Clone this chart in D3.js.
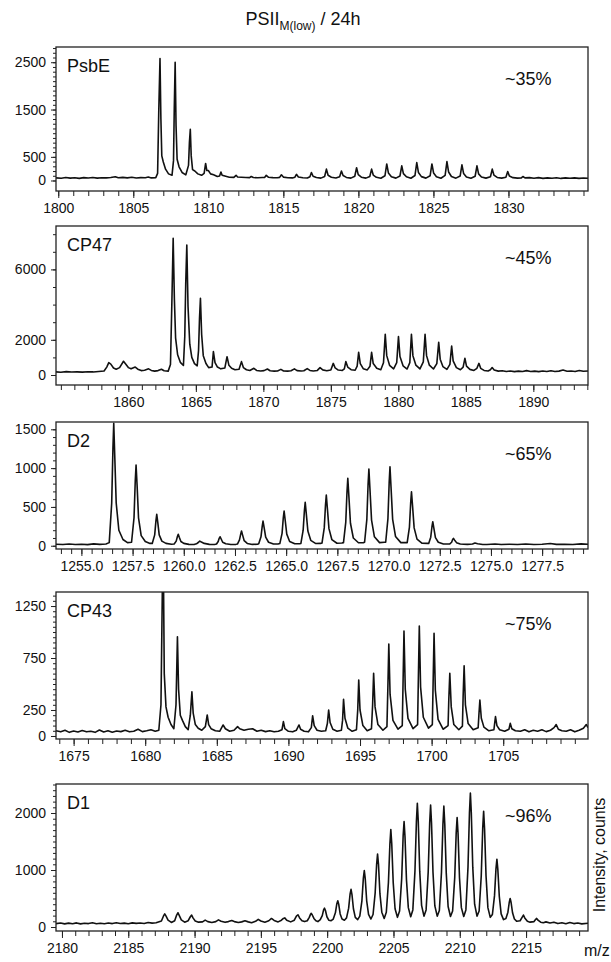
<!DOCTYPE html>
<html>
<head>
<meta charset="utf-8">
<title>PSII M(low) / 24h</title>
<script src="https://cdn.jsdelivr.net/npm/d3@7"></script>
<style>
  body { margin: 0; background: #fff; }
  svg text { font-family: "Liberation Sans", Arial, sans-serif; fill: #111; }
  .trace { fill: none; stroke: #111; stroke-width: 1.6px; stroke-linejoin: round; }
  .frame { fill: none; stroke: #222; stroke-width: 1.3px; }
  .tick line { stroke: #222; }
</style>
</head>
<body>
<svg id="chart" width="611" height="962"></svg>
<script>
// panel names and labels
const panelNames = ['PsbE', 'CP47', 'D2', 'CP43', 'D1'];
const percentLabels = ['~35%', '~45%', '~65%', '~75%', '~96%'];

// labelled tick values
const xTicks = [
  [1800, 1805, 1810, 1815, 1820, 1825, 1830],
  [1860, 1865, 1870, 1875, 1880, 1885, 1890],
  [1255.0, 1257.5, 1260.0, 1262.5, 1265.0, 1267.5, 1270.0, 1272.5, 1275.0, 1277.5],
  [1675, 1680, 1685, 1690, 1695, 1700, 1705],
  [2180, 2185, 2190, 2195, 2200, 2205, 2210, 2215]
];
const yTicks = [
  [0, 500, 1500, 2500],
  [0, 2000, 6000],
  [0, 500, 1000, 1500],
  [0, 250, 750, 1250],
  [0, 1000, 2000]
];

// spectra: [m/z, counts]
const psbE = [
  [1799.85,55],[1800.2,48],[1800.5,62],[1800.8,50],[1801.1,58],[1801.4,45],[1801.7,60],[1802.0,52],[1802.3,64],[1802.6,50],
  [1802.9,58],[1803.2,55],[1803.5,62],[1803.8,80],[1804.0,58],[1804.3,66],[1804.6,55],[1804.9,68],[1805.2,52],[1805.5,60],
  [1805.8,58],[1806.0,75],[1806.2,55],[1806.5,60],[1806.62,150],
  [1806.7,1500],[1806.78,2580],[1806.84,1300],[1806.9,520],[1807.0,390],[1807.15,240],[1807.35,140],[1807.58,110],[1807.68,420],
  [1807.73,1500],[1807.79,2500],[1807.85,1150],[1807.92,450],[1808.05,290],[1808.25,170],[1808.5,120],[1808.68,320],
  [1808.74,800],[1808.8,1080],[1808.86,520],[1808.95,230],[1809.1,200],[1809.3,140],[1809.55,110],[1809.72,150],
  [1809.82,360],[1809.9,210],[1810.0,210],[1810.15,140],[1810.35,120],[1810.6,85],[1810.75,95],
  [1810.84,180],[1810.92,110],[1811.1,95],[1811.4,70],[1811.7,65],
  [1811.85,110],[1811.95,75],[1812.2,70],[1812.5,62],[1812.75,60],
  [1812.86,85],[1813.0,62],[1813.3,58],[1813.6,64],[1813.75,62],
  [1813.86,110],[1814.0,70],[1814.3,60],[1814.6,58],[1814.75,66],
  [1814.87,120],[1815.0,72],[1815.3,58],[1815.6,55],[1815.77,70],
  [1815.87,130],[1816.0,75],[1816.3,58],[1816.6,52],[1816.77,80],
  [1816.87,170],[1816.98,90],[1817.2,62],[1817.5,50],[1817.75,85],
  [1817.87,240],[1817.98,110],[1818.2,70],[1818.5,52],[1818.75,80],
  [1818.87,200],[1818.98,105],[1819.2,65],[1819.5,50],[1819.76,90],
  [1819.88,270],[1819.99,125],[1820.2,70],[1820.5,50],[1820.76,85],
  [1820.88,240],[1820.99,115],[1821.2,68],[1821.5,48],[1821.77,100],
  [1821.89,350],[1822.0,160],[1822.2,80],[1822.5,50],[1822.77,95],
  [1822.89,310],[1823.0,145],[1823.2,78],[1823.5,48],[1823.77,105],
  [1823.89,380],[1824.0,170],[1824.2,82],[1824.5,50],[1824.78,100],
  [1824.9,350],[1825.01,160],[1825.2,80],[1825.5,48],[1825.78,110],
  [1825.9,400],[1826.01,180],[1826.2,85],[1826.5,50],[1826.78,95],
  [1826.9,330],[1827.01,150],[1827.2,75],[1827.5,48],[1827.78,90],
  [1827.9,310],[1828.01,140],[1828.2,72],[1828.5,50],[1828.8,80],
  [1828.92,240],[1829.03,115],[1829.25,65],[1829.55,50],[1829.83,70],
  [1829.95,190],[1830.06,95],[1830.3,60],[1830.6,50],[1830.86,55],
  [1830.96,85],[1831.1,55],[1831.4,60],[1831.7,48],[1832.0,60],[1832.3,45],[1832.6,56],[1832.9,48],[1833.2,58],
  [1833.5,44],[1833.8,55],[1834.1,46],[1834.4,56],[1834.7,44],[1835.0,52],[1835.3,48]
];

const cp47 = [
  [1854.64,180],[1855.0,160],[1855.4,190],[1855.8,170],[1856.2,180],[1856.6,165],[1857.0,185],[1857.4,175],[1857.8,200],
  [1858.2,230],[1858.4,450],[1858.55,700],[1858.7,620],[1858.9,400],[1859.1,330],[1859.35,420],[1859.64,780],[1859.8,620],
  [1860.0,420],[1860.2,350],[1860.51,450],[1860.7,330],[1860.95,250],[1861.2,270],[1861.5,350],[1861.7,260],[1861.95,220],
  [1862.2,250],[1862.45,330],[1862.65,240],[1862.95,220],[1863.12,600],
  [1863.22,4000],[1863.32,7770],[1863.41,4300],[1863.5,2100],[1863.65,1150],[1863.85,720],[1864.08,540],[1864.18,2200],
  [1864.25,5200],[1864.33,7390],[1864.42,3900],[1864.55,1750],[1864.7,1000],[1864.9,650],[1865.1,520],[1865.2,1400],
  [1865.27,3200],[1865.34,4360],[1865.43,2300],[1865.55,1100],[1865.75,650],[1865.95,420],[1866.2,450],
  [1866.3,1330],[1866.42,700],[1866.6,450],[1866.85,350],[1867.15,400],
  [1867.31,1040],[1867.45,550],[1867.65,380],[1867.9,300],[1868.2,330],
  [1868.38,760],[1868.52,420],[1868.75,300],[1869.0,260],[1869.3,380],[1869.5,260],[1869.8,230],[1870.05,250],[1870.3,340],
  [1870.5,240],[1870.8,220],[1871.05,230],[1871.3,320],[1871.5,230],[1871.8,220],[1872.05,240],[1872.3,350],[1872.5,250],
  [1872.8,230],[1873.0,240],[1873.25,360],[1873.45,260],[1873.7,230],[1874.0,260],[1874.2,420],[1874.4,290],[1874.7,240],[1875.0,280],
  [1875.18,660],[1875.32,400],[1875.55,280],[1875.85,260],[1876.0,350],
  [1876.11,760],[1876.25,450],[1876.5,300],[1876.8,270],[1876.95,500],
  [1877.06,1290],[1877.18,650],[1877.4,360],[1877.7,290],[1877.9,500],
  [1878.02,1290],[1878.14,650],[1878.4,380],[1878.7,300],[1878.9,700],
  [1879.03,2310],[1879.14,1100],[1879.35,550],[1879.65,350],[1879.88,700],
  [1880.01,2180],[1880.12,1050],[1880.35,520],[1880.65,340],[1880.85,700],
  [1880.97,2310],[1881.08,1100],[1881.3,560],[1881.6,350],[1881.85,750],
  [1881.98,2310],[1882.09,1100],[1882.3,560],[1882.6,340],[1882.85,650],
  [1882.99,1860],[1883.1,900],[1883.3,480],[1883.6,320],[1883.82,600],
  [1883.95,1650],[1884.06,800],[1884.3,420],[1884.6,300],[1884.8,450],
  [1884.93,950],[1885.05,500],[1885.3,320],[1885.6,260],[1885.82,380],
  [1885.97,660],[1886.1,380],[1886.35,260],[1886.65,230],[1886.82,300],
  [1886.95,420],[1887.1,280],[1887.4,220],[1887.7,240],[1888.0,200],[1888.3,230],[1888.6,190],[1888.9,220],[1889.2,200],
  [1889.5,250],[1889.8,200],[1890.1,220],[1890.4,190],[1890.7,230],[1891.0,200],[1891.3,240],[1891.6,195],[1891.9,220],
  [1892.2,280],[1892.5,210],[1892.8,230],[1893.1,200],[1893.4,260],[1893.7,210],[1894.05,230]
];

const d2 = [
  [1253.76,20],[1254.1,15],[1254.4,22],[1254.7,16],[1255.0,20],[1255.3,14],[1255.6,24],[1255.9,18],[1256.2,22],
  [1256.36,40],[1256.48,550],[1256.54,1250],[1256.58,1577],[1256.63,1150],[1256.7,550],[1256.83,200],[1257.03,80],[1257.25,40],
  [1257.45,45],[1257.57,360],[1257.63,830],[1257.67,1040],[1257.72,780],[1257.79,360],[1257.92,130],[1258.12,55],[1258.35,30],
  [1258.46,30],[1258.58,140],[1258.64,320],[1258.68,404],[1258.73,300],[1258.8,140],[1258.93,60],[1259.13,30],[1259.4,20],
  [1259.53,22],[1259.63,60],[1259.69,120],[1259.73,147],[1259.78,110],[1259.86,55],[1260.0,30],[1260.25,18],[1260.5,16],
  [1260.62,25],[1260.72,45],[1260.78,60],[1260.86,48],[1261.0,30],[1261.25,18],[1261.5,16],
  [1261.6,22],[1261.68,55],[1261.73,95],[1261.77,116],[1261.82,90],[1261.9,45],[1262.05,25],[1262.3,15],[1262.55,18],
  [1262.62,22],[1262.72,75],[1262.78,150],[1262.82,189],[1262.87,140],[1262.95,65],[1263.1,30],[1263.35,17],[1263.6,20],
  [1263.66,25],[1263.77,115],[1263.83,250],[1263.87,318],[1263.92,240],[1264.0,110],[1264.14,45],[1264.38,22],[1264.6,22],
  [1264.69,28],[1264.8,160],[1264.86,360],[1264.9,447],[1264.95,335],[1265.03,150],[1265.17,55],[1265.42,25],[1265.65,25],
  [1265.72,30],[1265.83,200],[1265.89,450],[1265.93,559],[1265.98,420],[1266.06,190],[1266.2,70],[1266.45,28],[1266.68,30],
  [1266.75,35],[1266.86,230],[1266.92,520],[1266.96,653],[1267.01,490],[1267.09,220],[1267.23,80],[1267.48,32],[1267.72,35],
  [1267.8,40],[1267.91,300],[1267.97,690],[1268.01,868],[1268.06,650],[1268.14,290],[1268.28,100],[1268.53,38],[1268.77,40],
  [1268.83,45],[1268.94,340],[1269.0,790],[1269.04,988],[1269.09,740],[1269.17,330],[1269.31,115],[1269.56,40],[1269.8,45],
  [1269.86,45],[1269.97,350],[1270.03,810],[1270.07,1018],[1270.12,760],[1270.2,340],[1270.34,120],[1270.6,40],[1270.85,40],
  [1270.91,40],[1271.02,240],[1271.08,550],[1271.12,696],[1271.17,520],[1271.25,230],[1271.39,85],[1271.64,32],[1271.9,30],
  [1271.96,28],[1272.06,110],[1272.12,245],[1272.16,309],[1272.21,230],[1272.29,105],[1272.43,45],[1272.68,22],[1272.95,22],
  [1272.98,22],[1273.08,45],[1273.13,80],[1273.17,95],[1273.22,75],[1273.32,40],[1273.5,22],[1273.85,18],[1274.1,22],
  [1274.22,35],[1274.35,25],[1274.6,16],[1274.8,16],[1275.2,22],[1275.5,15],[1275.9,20],[1276.3,16],[1276.7,22],[1277.1,15],
  [1277.5,20],[1277.9,28],[1278.2,18],[1278.6,20],[1279.0,16],[1279.4,24],[1279.74,20]
];

const cp43 = [
  [1673.77,50],[1674.1,40],[1674.4,55],[1674.7,35],[1675.0,48],[1675.3,38],[1675.6,52],[1675.9,40],[1676.2,45],[1676.5,35],
  [1676.8,58],[1677.1,38],[1677.4,50],[1677.7,36],[1678.0,48],[1678.3,42],[1678.6,55],[1678.9,40],[1679.2,45],[1679.5,65],
  [1679.8,42],[1680.1,50],[1680.4,60],[1680.7,45],[1680.95,55],[1681.1,300],
  [1681.2,1450],[1681.28,1450],[1681.33,600],[1681.45,280],[1681.6,180],[1681.8,110],[1682.0,70],[1682.15,300],
  [1682.25,955],[1682.33,450],[1682.45,200],[1682.6,150],[1682.8,90],[1683.0,60],[1683.15,200],
  [1683.26,426],[1683.35,220],[1683.5,110],[1683.7,75],[1683.95,55],[1684.2,90],
  [1684.33,202],[1684.43,110],[1684.6,70],[1684.9,50],[1685.2,45],
  [1685.44,106],[1685.6,70],[1685.9,45],[1686.2,55],
  [1686.45,90],[1686.6,70],[1686.9,55],[1687.2,65],[1687.5,70],[1687.8,45],[1688.1,55],[1688.4,42],[1688.7,50],[1689.0,40],
  [1689.3,45],[1689.55,60],
  [1689.65,138],[1689.75,70],[1690.0,45],[1690.3,40],[1690.55,55],
  [1690.74,106],[1690.85,65],[1691.1,45],[1691.4,40],[1691.6,80],
  [1691.69,195],[1691.8,100],[1692.0,55],[1692.3,45],[1692.6,50],[1692.72,120],
  [1692.81,250],[1692.91,130],[1693.1,65],[1693.4,45],[1693.7,55],[1693.78,150],
  [1693.85,353],[1693.95,170],[1694.15,75],[1694.45,45],[1694.75,60],[1694.84,250],
  [1694.91,538],[1695.0,250],[1695.2,100],[1695.5,50],[1695.8,70],[1695.88,300],
  [1695.95,603],[1696.05,280],[1696.25,110],[1696.6,55],[1696.88,90],[1696.95,500],
  [1697.01,885],[1697.1,400],[1697.3,150],[1697.65,65],[1697.95,100],[1698.01,550],
  [1698.07,1010],[1698.16,450],[1698.35,170],[1698.7,70],[1699.02,110],[1699.08,600],
  [1699.14,1058],[1699.23,470],[1699.42,180],[1699.78,75],[1700.05,110],[1700.11,550],
  [1700.17,987],[1700.26,440],[1700.45,160],[1700.8,65],[1701.15,100],[1701.2,350],
  [1701.27,603],[1701.37,280],[1701.55,110],[1701.9,60],[1702.15,95],[1702.2,380],
  [1702.27,676],[1702.36,300],[1702.55,120],[1702.9,60],[1703.25,80],[1703.3,200],
  [1703.37,346],[1703.47,170],[1703.65,85],[1704.0,50],[1704.35,60],[1704.4,120],
  [1704.46,186],[1704.56,100],[1704.75,60],[1705.1,45],[1705.4,65],
  [1705.49,122],[1705.6,70],[1705.85,50],[1706.2,45],[1706.5,60],[1706.8,40],[1707.1,55],[1707.4,45],[1707.7,60],
  [1708.0,42],[1708.3,55],[1708.55,80],[1708.7,110],[1708.85,65],[1709.1,50],[1709.4,45],[1709.7,60],[1710.0,40],
  [1710.3,55],[1710.6,75],[1710.8,110],[1710.92,80]
];

const d1 = [
  [2179.55,60],[2179.9,70],[2180.2,55],[2180.5,68],[2180.8,58],[2181.1,72],[2181.4,55],[2181.7,65],[2182.0,60],[2182.3,75],
  [2182.6,58],[2182.9,66],[2183.2,56],[2183.5,70],[2183.8,60],[2184.1,75],[2184.4,62],[2184.7,68],[2185.0,58],[2185.3,72],
  [2185.6,64],[2185.9,70],[2186.2,62],[2186.5,80],[2186.8,68],[2187.1,75],[2187.5,105],
  [2187.65,190],[2187.75,230],[2187.85,190],[2188.0,120],[2188.25,80],[2188.5,110],
  [2188.65,210],[2188.75,250],[2188.85,200],[2189.0,125],[2189.25,85],[2189.52,110],
  [2189.68,180],[2189.78,210],[2189.88,160],[2190.05,105],[2190.3,85],[2190.6,90],
  [2190.8,120],[2191.0,95],[2191.3,80],[2191.6,95],
  [2191.8,125],[2192.0,100],[2192.3,82],[2192.55,95],
  [2192.8,115],[2193.0,95],[2193.3,80],[2193.55,90],
  [2193.8,110],[2194.05,90],[2194.3,75],[2194.6,100],
  [2194.8,135],[2195.0,105],[2195.3,85],[2195.6,110],
  [2195.8,150],[2196.0,115],[2196.3,90],[2196.55,120],
  [2196.7,150],[2196.8,160],[2196.95,120],[2197.25,90],[2197.52,120],
  [2197.68,190],[2197.8,215],[2197.92,160],[2198.1,110],[2198.3,95],
  [2198.5,110],[2198.65,170],[2198.75,225],[2198.8,240],[2198.87,215],[2199.0,150],[2199.15,110],[2199.3,95],
  [2199.48,130],[2199.63,200],[2199.73,300],[2199.8,330],[2199.87,290],[2199.98,180],[2200.12,120],[2200.3,110],
  [2200.46,140],[2200.62,250],[2200.73,410],[2200.8,460],[2200.87,400],[2200.98,230],[2201.12,140],[2201.3,120],
  [2201.46,160],[2201.62,330],[2201.73,580],[2201.8,660],[2201.87,570],[2201.98,320],[2202.12,170],[2202.3,130],
  [2202.46,190],[2202.62,460],[2202.73,860],[2202.8,990],[2202.87,850],[2202.98,460],[2203.12,220],[2203.3,140],
  [2203.46,220],[2203.62,600],[2203.73,1100],[2203.8,1280],[2203.87,1100],[2203.98,580],[2204.12,260],[2204.3,150],
  [2204.46,260],[2204.62,780],[2204.73,1450],[2204.8,1710],[2204.87,1460],[2204.98,780],[2205.12,320],[2205.3,170],
  [2205.46,280],[2205.62,850],[2205.73,1600],[2205.8,1850],[2205.87,1580],[2205.98,830],[2206.12,340],[2206.3,180],
  [2206.46,300],[2206.62,980],[2206.73,1850],[2206.8,2170],[2206.87,1850],[2206.98,980],[2207.12,380],[2207.3,190],
  [2207.46,300],[2207.62,970],[2207.73,1820],[2207.8,2140],[2207.87,1820],[2207.98,960],[2208.12,370],[2208.3,190],
  [2208.46,290],[2208.62,960],[2208.73,1800],[2208.8,2120],[2208.87,1800],[2208.98,950],[2209.12,360],[2209.3,185],
  [2209.46,280],[2209.62,870],[2209.73,1650],[2209.8,1920],[2209.87,1640],[2209.98,860],[2210.12,340],[2210.3,185],
  [2210.46,300],[2210.62,1050],[2210.73,2000],[2210.8,2350],[2210.87,2000],[2210.98,1050],[2211.12,400],[2211.3,190],
  [2211.46,280],[2211.62,900],[2211.73,1730],[2211.8,2030],[2211.87,1720],[2211.98,900],[2212.12,340],[2212.3,170],
  [2212.46,220],[2212.62,550],[2212.73,1020],[2212.8,1190],[2212.87,1010],[2212.98,540],[2213.12,230],[2213.3,130],
  [2213.48,150],[2213.63,260],[2213.73,430],[2213.8,500],[2213.87,430],[2213.98,250],[2214.12,140],[2214.3,100],
  [2214.55,110],[2214.7,170],[2214.8,210],[2214.9,160],[2215.1,100],[2215.3,85],
  [2215.6,95],[2215.73,135],[2215.8,150],[2215.9,120],[2216.1,85],[2216.3,75],
  [2216.5,90],[2216.8,70],[2217.1,85],[2217.4,60],[2217.7,75],[2218.0,58],
  [2218.3,80],[2218.6,60],[2218.9,70],[2219.2,55],[2219.67,65]
];

const spectra = [psbE, cp47, d2, cp43, d1];

// layout per panel (pixels and axis ranges)
const left = 56, right = 588;
const panels = [
  { top: 47,  bottom: 191, xDom: [1799.85, 1835.3],  yDom: [-222, 2822], yMinor: 100,  xMinor: 1 },
  { top: 226, bottom: 385, xDom: [1854.64, 1894.05], yDom: [-568, 8466], yMinor: 1000, xMinor: 1 },
  { top: 422, bottom: 549, xDom: [1253.76, 1279.74], yDom: [-42, 1594],  yMinor: 100,  xMinor: 0.5 },
  { top: 592, bottom: 739, xDom: [1673.77, 1710.92], yDom: [-29, 1385],  yMinor: 50,   xMinor: 1 },
  { top: 784, bottom: 931, xDom: [2179.55, 2219.67], yDom: [-70, 2509],  yMinor: 100,  xMinor: 1 }
];

const svg = d3.select('#chart');
svg.append('rect').attr('width', 611).attr('height', 962).attr('fill', '#fff');

// title with subscript
const title = svg.append('text')
  .attr('x', 303).attr('y', 25)
  .attr('text-anchor', 'middle')
  .style('font-size', '18px');
title.append('tspan').text('PSII');
title.append('tspan').attr('dy', 5).style('font-size', '12px').text('M(low)');
title.append('tspan').attr('dy', -5).text(' / 24h');

panels.forEach((p, i) => {
  const x = d3.scaleLinear().domain(p.xDom).range([left, right]);
  const y = d3.scaleLinear().domain(p.yDom).range([p.bottom, p.top]);
  const g = svg.append('g');

  g.append('clipPath').attr('id', 'clip' + i)
    .append('rect')
    .attr('x', left).attr('y', p.top)
    .attr('width', right - left).attr('height', p.bottom - p.top);

  // minor ticks
  const xMinorTicks = d3.range(Math.ceil(p.xDom[0] / p.xMinor) * p.xMinor, p.xDom[1], p.xMinor);
  const yMinorTicks = d3.range(0, p.yDom[1], p.yMinor);

  g.append('g')
    .attr('transform', `translate(0,${p.bottom})`)
    .call(d3.axisBottom(x).tickValues(xMinorTicks).tickSize(5).tickFormat(''))
    .call(a => a.select('.domain').remove());

  const fmt = i === 2 ? d3.format('.1f') : d3.format('d');
  g.append('g')
    .attr('transform', `translate(0,${p.bottom})`)
    .call(d3.axisBottom(x).tickValues(xTicks[i]).tickSize(7).tickPadding(5).tickFormat(fmt))
    .call(a => a.select('.domain').remove())
    .call(a => a.selectAll('text').style('font-size', '14px').attr('fill', '#111'));

  g.append('g')
    .attr('transform', `translate(${left},0)`)
    .call(d3.axisLeft(y).tickValues(yMinorTicks).tickSize(3).tickFormat(''))
    .call(a => a.select('.domain').remove());

  g.append('g')
    .attr('transform', `translate(${left},0)`)
    .call(d3.axisLeft(y).tickValues(yTicks[i]).tickSize(5).tickPadding(5).tickFormat(d3.format('d')))
    .call(a => a.select('.domain').remove())
    .call(a => a.selectAll('text').style('font-size', '14px').attr('fill', '#111'));

  // spectrum trace
  g.append('path')
    .datum(spectra[i])
    .attr('class', 'trace')
    .attr('clip-path', `url(#clip${i})`)
    .attr('d', d3.line().x(d => x(d[0])).y(d => y(d[1])));

  g.append('rect')
    .attr('class', 'frame')
    .attr('x', left).attr('y', p.top)
    .attr('width', right - left).attr('height', p.bottom - p.top);

  g.append('text')
    .attr('x', left + 11).attr('y', p.top + 25)
    .style('font-size', '18px')
    .text(panelNames[i]);

  g.append('text')
    .attr('x', 505).attr('y', p.top + 38)
    .style('font-size', '18px')
    .text(percentLabels[i]);
});

svg.append('text')
  .attr('transform', 'translate(605,855) rotate(-90)')
  .attr('text-anchor', 'middle')
  .style('font-size', '16px')
  .text('Intensity, counts');

svg.append('text')
  .attr('x', 584).attr('y', 956)
  .style('font-size', '16px')
  .text('m/z');
</script>
</body>
</html>
